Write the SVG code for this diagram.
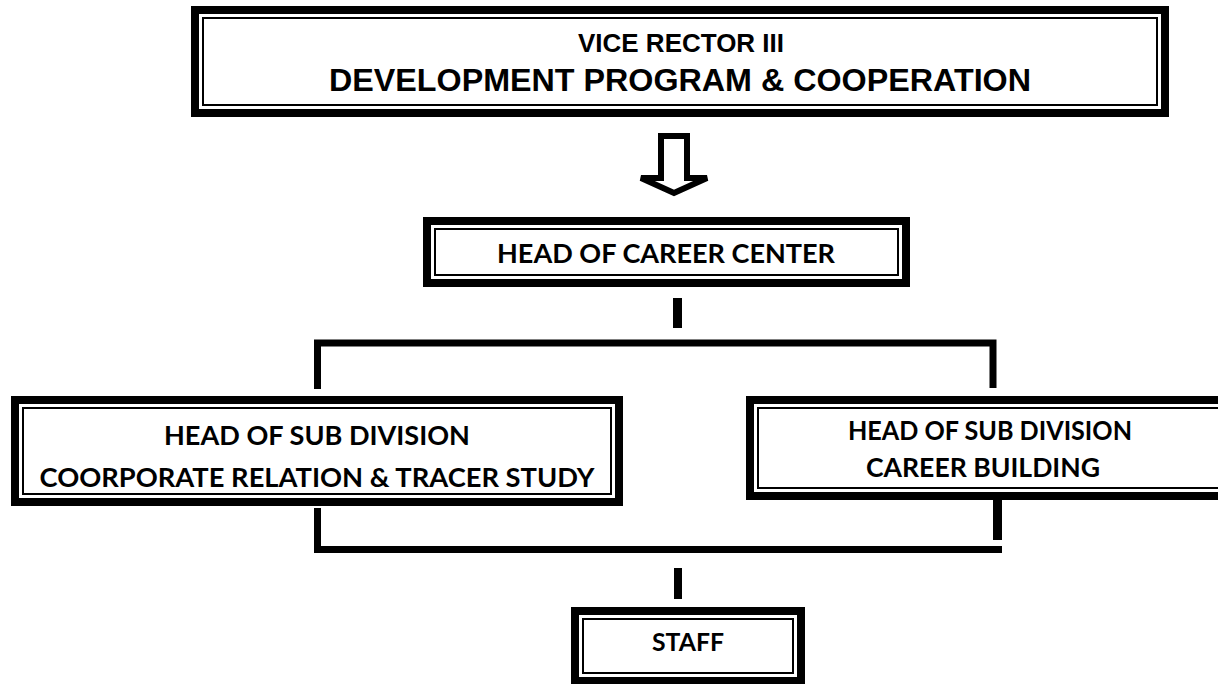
<svg xmlns="http://www.w3.org/2000/svg" width="1218" height="684" viewBox="0 0 1218 684">
<style>
.outer{fill:#fff;stroke:#000;stroke-width:8}
.inner{fill:none;stroke:#000;stroke-width:2}
.t1{font-family:"Liberation Sans",Arial,sans-serif;font-weight:bold;fill:#000;text-anchor:middle}
.t2{font-family:Lato,"Open Sans",sans-serif;font-weight:bold;fill:#000;text-anchor:middle}
.bar{fill:#000}
</style>
<rect width="1218" height="684" fill="#fff"/>
<g id="vice-rector">
<rect class="outer" x="195" y="10" width="970" height="103"/>
<rect class="inner" x="203" y="18" width="954" height="87"/>
<text class="t1" x="681" y="52" font-size="26" textLength="206" lengthAdjust="spacingAndGlyphs">VICE RECTOR III</text>
<text class="t1" x="680" y="91" font-size="32" textLength="702" lengthAdjust="spacingAndGlyphs">DEVELOPMENT PROGRAM &amp; COOPERATION</text>
</g>
<g id="connectors">
<polygon points="661,136 687,136 687,178 707,178 674,193 641,178 661,178" fill="#fff" stroke="#000" stroke-width="6" stroke-linejoin="miter"/>
<rect class="bar" x="673" y="298" width="9" height="30"/>
<path d="M317.5,389 V343 H993 V388" fill="none" stroke="#000" stroke-width="7"/>
<path d="M317.5,508 V549.5 H1002" fill="none" stroke="#000" stroke-width="7"/>
<rect class="bar" x="993" y="500" width="9" height="40"/>
<rect class="bar" x="674" y="568" width="8" height="31"/>
</g>
<g id="career-center">
<rect class="outer" x="427" y="221" width="479" height="62"/>
<rect class="inner" x="435" y="229" width="463" height="46"/>
<text class="t2" x="666" y="263" font-size="26" textLength="338" lengthAdjust="spacingAndGlyphs">HEAD OF CAREER CENTER</text>
</g>
<g id="sub-corporate">
<rect class="outer" x="15" y="400" width="604" height="102"/>
<rect class="inner" x="23" y="408" width="588" height="86"/>
<text class="t2" x="317" y="445" font-size="27" textLength="306" lengthAdjust="spacingAndGlyphs">HEAD OF SUB DIVISION</text>
<text class="t2" x="317" y="487" font-size="27" textLength="555" lengthAdjust="spacingAndGlyphs">COORPORATE RELATION &amp; TRACER STUDY</text>
</g>
<g id="sub-career">
<rect class="outer" x="750" y="400" width="480" height="96"/>
<rect class="inner" x="758" y="408" width="470" height="80"/>
<text class="t2" x="990" y="440" font-size="27" textLength="284" lengthAdjust="spacingAndGlyphs">HEAD OF SUB DIVISION</text>
<text class="t2" x="983" y="477" font-size="27" textLength="234" lengthAdjust="spacingAndGlyphs">CAREER BUILDING</text>
</g>
<g id="staff">
<rect class="outer" x="575" y="611" width="226" height="70"/>
<rect class="inner" x="583" y="619" width="210" height="54"/>
<text class="t2" x="688" y="651" font-size="25" textLength="72" lengthAdjust="spacingAndGlyphs">STAFF</text>
</g>
</svg>
